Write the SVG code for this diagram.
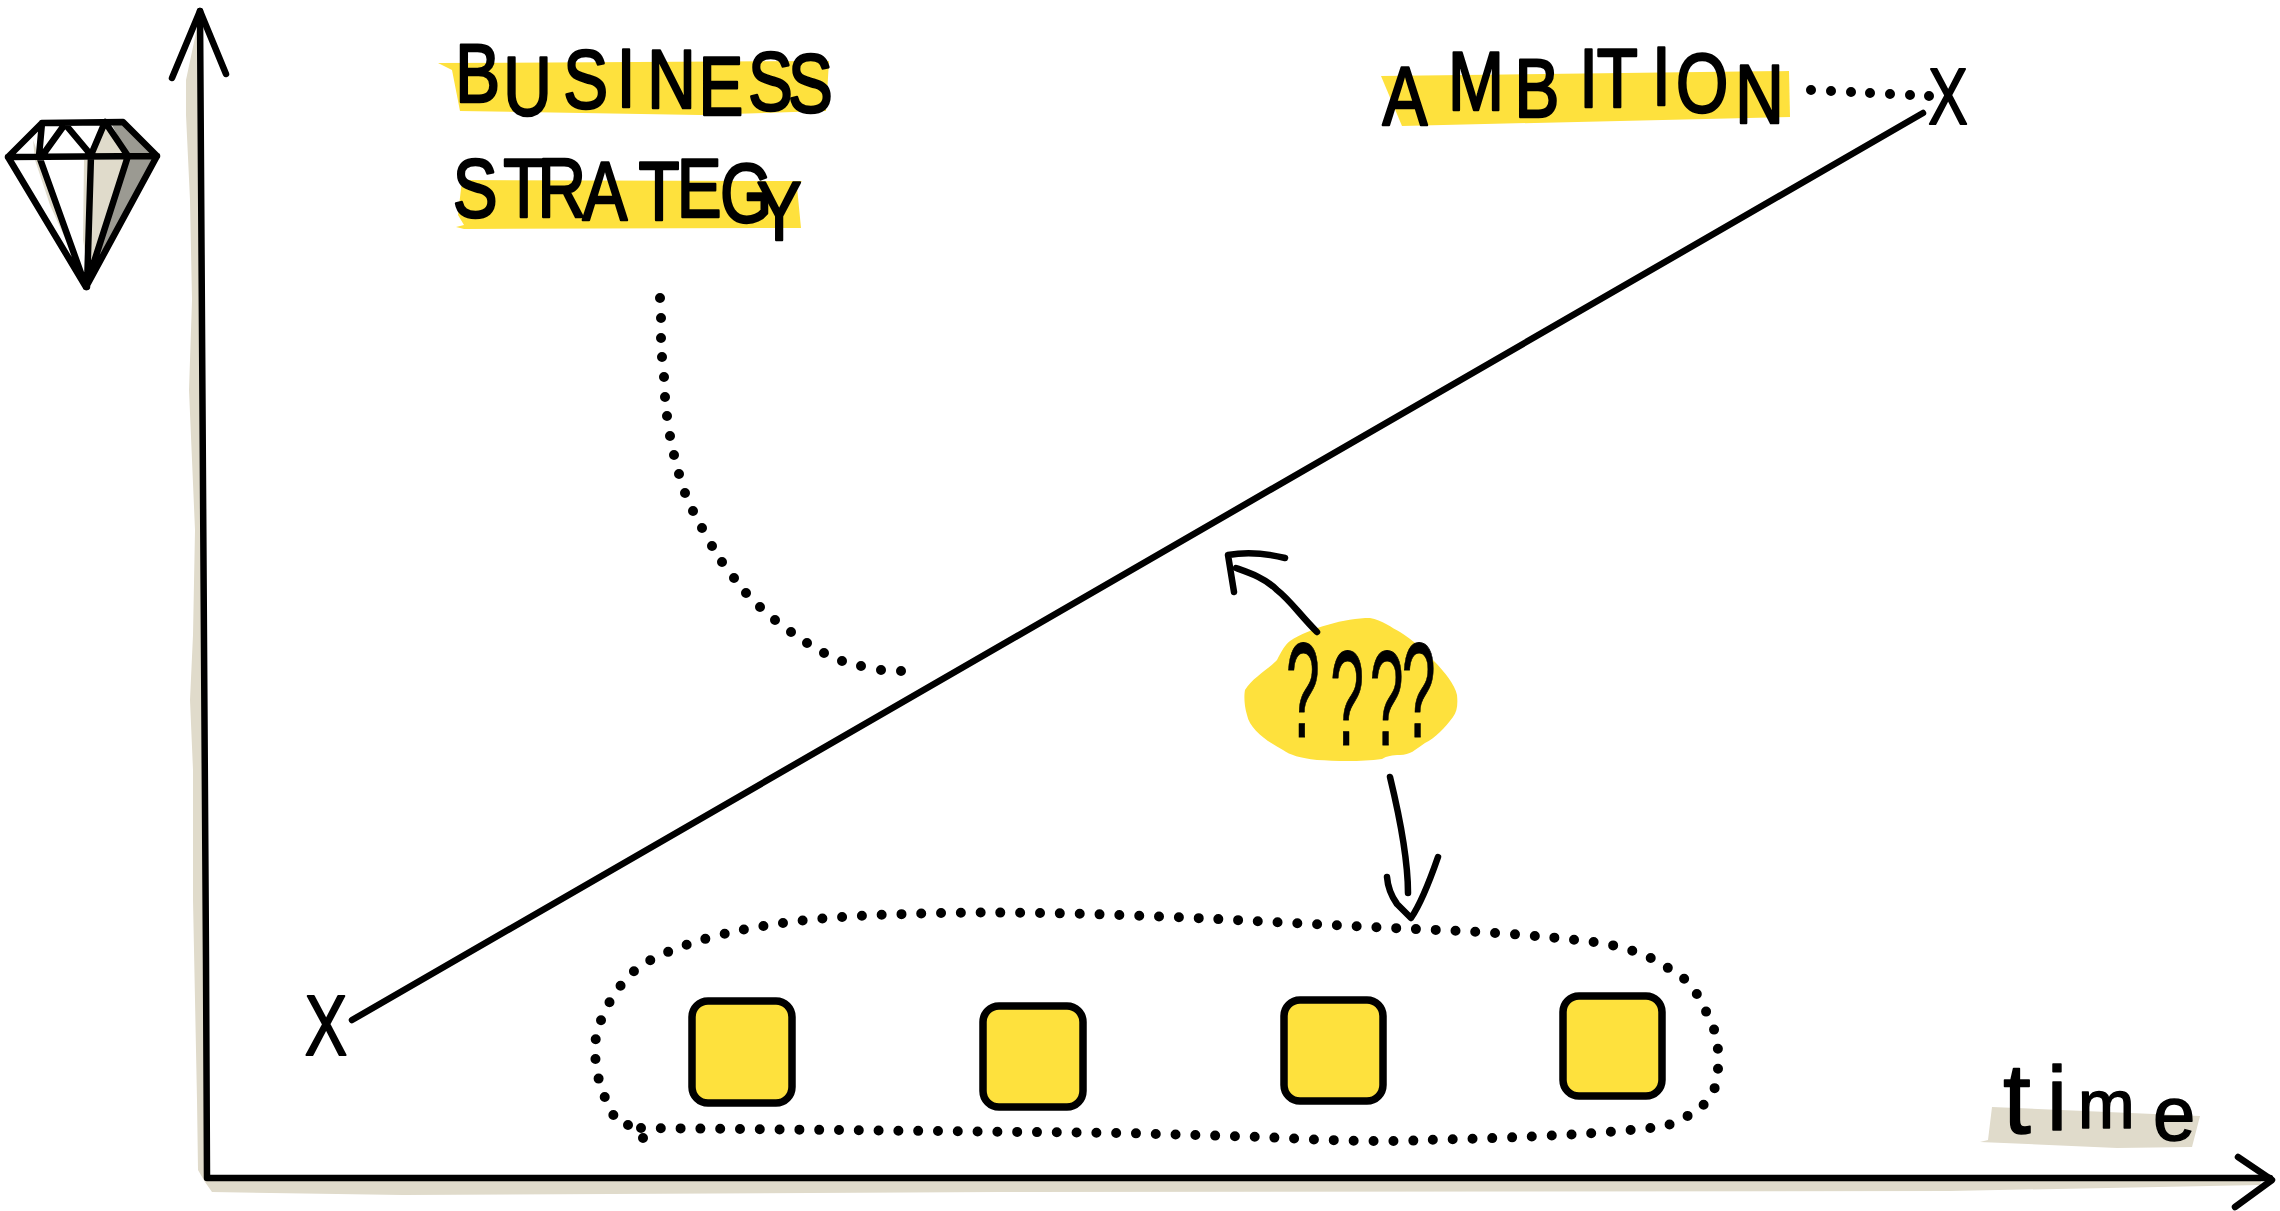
<svg xmlns="http://www.w3.org/2000/svg" width="2280" height="1211" viewBox="0 0 2280 1211">
<style>
.ink{fill:none;stroke:#000;stroke-width:6.5;stroke-linecap:round;stroke-linejoin:round}
.dots{fill:none;stroke:#000;stroke-width:10;stroke-linecap:round;stroke-dasharray:0 19.8}
.dot{fill:none;stroke:#000;stroke-width:10;stroke-linecap:round}
.hand{font-family:"Liberation Sans",Arial,sans-serif;fill:#000;stroke:#000;stroke-linejoin:round}
.yellow{fill:#FEE13D}
.beige{fill:#E0DBCB}
.square{fill:#FEE13D;stroke:#000;stroke-width:7.5}
</style>
<rect width="2280" height="1211" fill="#fff"/>
<g id="axes-shadow">
<path class="beige" d="M197 28L186 80L186 115L190 200L192 300L189 390L195 530L193 635L190 700L193 770L193 900L195 1000L197 1100L198 1170L205 1182L212 1192L403 1195L1000 1192L1950 1191L2260 1185L2262 1178L207 1176L202 30Z"/>
</g>
<g id="diamond">
<path fill="#fff" d="M8 157L42 123L123 122L157 156L86 287Z"/>
<path fill="#9B9A92" d="M111 123L123 122L157 156L86 287L128 156Z"/>
<path class="beige" d="M105 127L128 156L87 285L91 155Z"/>
<path class="beige" d="M33 140L39 156L84 280L50 205L35 160ZM65 128L91 155L80 137ZM84 160L91 160L88 270L83 240Z"/>
<path class="ink" d="M8 157L42 123L123 122L157 156L86 287ZM8 157L157 156M42 123L39 156L86 287M65 124L42 156M65 124L91 155M105 122L91 155M105 122L128 156L86 287M91 155L87 287"/>
</g>
<g id="business-strategy">
<path class="yellow" d="M438 63L829 61L826 111L700 115L460 111L452 70Z"/>
<path class="yellow" d="M462 180L802 181L797 187L801 228L464 229L456 227L464 225L458 215Z"/>
<text class="hand" font-size="84" stroke-width="2.5" transform="scale(.8 1)" x="569 629 704 771 809 873 935 985" y="102 115 108 107 108 115 110 112">BUSINESS</text>
<text class="hand" font-size="84" stroke-width="2.5" transform="scale(.8 1)" x="566 629 672 728 798 846 900 946" y="217 217 217 220 220 217 222 240">STRATEGY</text>
</g>
<g id="ambition">
<path class="yellow" d="M1381 76L1789 71L1790 117L1402 126Z"/>
<text class="hand" font-size="84" stroke-width="2.5" transform="scale(.8 1)" x="1728 1810 1893 1974 1996 2065 2095 2169" y="125 110 117 107 107 105 112 123">AMBITION</text>
</g>
<text id="x-start" class="hand" font-size="86" stroke-width="2" text-anchor="middle" transform="translate(326 1055) scale(.74 1)">X</text>
<text id="x-end" class="hand" font-size="80" stroke-width="2" text-anchor="middle" transform="translate(1948 124) scale(.74 1)">X</text>
<g id="question-marks">
<path class="yellow" d="M1245 690C1252 678 1270 668 1277 660C1282 650 1285 645 1290 641C1310 628 1345 618 1370 618C1382 620 1392 628 1400 632C1412 640 1425 650 1433 660C1445 672 1455 685 1457 695C1458 705 1457 712 1453 717C1445 728 1435 738 1425 743C1415 750 1410 755 1400 755C1392 755 1387 756 1382 759C1360 762 1335 761 1317 760C1300 758 1290 755 1283 750C1268 742 1250 730 1247 715C1244 705 1244 695 1245 690Z"/>
<text class="hand" font-size="135" stroke-width="1" transform="scale(.45 1)" x="2858 2956 3044 3115" y="737 745 745 737">????</text>
</g>
<g id="box-1"><rect class="square" x="692" y="1001" width="100" height="102" rx="16"/></g>
<g id="box-2"><rect class="square" x="983" y="1006" width="100" height="101" rx="16"/></g>
<g id="box-3"><rect class="square" x="1284" y="1000" width="99" height="101" rx="16"/></g>
<g id="box-4"><rect class="square" x="1563" y="996" width="99" height="100" rx="16"/></g>
<g id="time">
<path class="beige" d="M1992 1107L2200 1116L2192 1147L2117 1148L1980 1142L1988 1140Z"/>
<text class="hand" stroke-width="1.5" y="1133"><tspan x="2003" font-size="100">t</tspan><tspan x="2047" y="1130" font-size="90">i</tspan><tspan x="2078" y="1128" font-size="68">m</tspan><tspan x="2153" y="1140" font-size="76">e</tspan></text>
</g>
<g id="connectors">
<path class="ink" d="M200 11L206 960L207 1178L2270 1178"/>
<path class="ink" d="M172 78L200 11L226 74"/>
<path class="ink" d="M2238 1157L2272 1180L2235 1207"/>
<path class="ink" d="M352 1020L1923 113"/>
<path class="dot" d="M1811 90h.01M1831 91h.01M1851 92h.01M1870 93h.01M1890 94h.01M1910 95h.01M1929 96h.01"/>
<path class="dot" d="M660 298h.01M661 318h.01M661 338h.01M662 357h.01M664 377h.01M665 397h.01M667 416h.01M670 436h.01M674 455h.01M679 474h.01M685 493h.01M693 511h.01M702 528h.01M712 546h.01M722 562h.01M734 578h.01M746 593h.01M760 607h.01M775 620h.01M791 632h.01M807 643h.01M824 653h.01M842 661h.01M861 666h.01M881 670h.01M901 671h.01"/>
<path class="dots" d="M641 1128L1124 1133L1263 1137C1300 1139 1380 1143 1425 1140C1520 1138 1620 1133 1665 1126C1678 1122 1692 1114 1701 1107C1710 1100 1718 1085 1718 1073L1718 1053C1718 1035 1712 1024 1707 1014C1700 995 1685 975 1668 968C1650 955 1620 945 1593 942C1540 935 1470 931 1413 929L1253 921C1150 915 1000 910 909 914C800 916 700 930 640 966C610 990 593 1030 595 1053C597 1085 605 1100 621 1129"/>
<path class="dot" d="M628 1125h.01M643 1138h.01"/>
<path class="ink" d="M1317 632C1300 615 1290 600 1277 590C1265 578 1250 573 1236 568"/>
<path class="ink" d="M1285 558C1265 553 1245 552 1228 555L1234 592"/>
<path class="ink" d="M1390 777C1398 810 1408 860 1408 893"/>
<path class="ink" d="M1387 877C1388 890 1392 897 1397 904L1411 918C1420 905 1430 880 1438 857"/>
</g>
</svg>
